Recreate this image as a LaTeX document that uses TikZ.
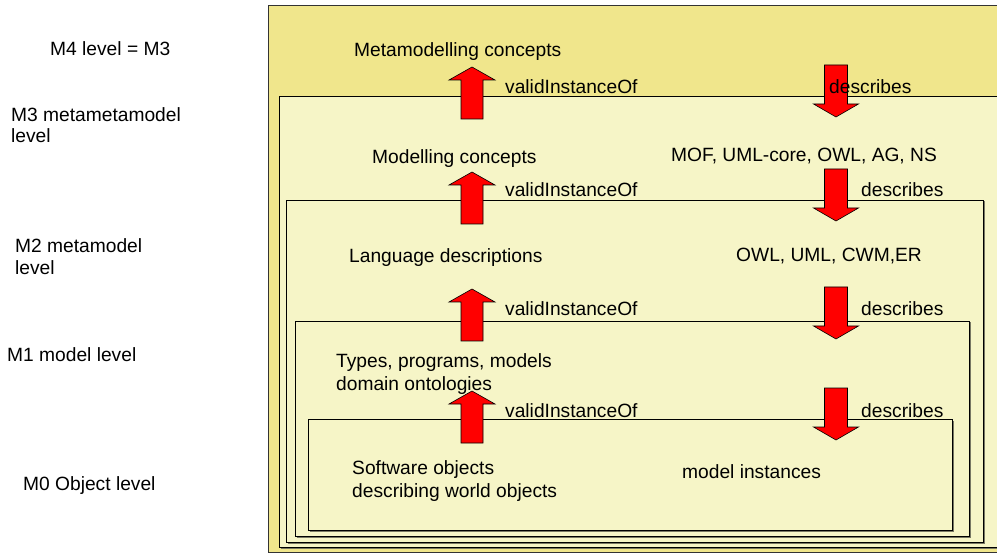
\documentclass[tikz,border=0pt]{standalone}
\usepackage{fontspec}
\setmainfont{Liberation Sans}
\definecolor{khaki}{RGB}{240,230,140}
\definecolor{paleyel}{RGB}{246,245,199}
\definecolor{shadowgrey}{RGB}{120,120,100}
\tikzset{
  lbl/.style={anchor=base west, inner sep=0pt, font=\fontsize{19.2bp}{23bp}\selectfont, text=black},
  levelbox/.style={draw=black, line width=0.9bp, fill=paleyel},
  outerbox/.style={draw=black!80, line width=1bp, fill=khaki},
  boxshadow/.style={draw=shadowgrey, line width=1.2bp},
  blockarrow/.style={fill=red, draw=black, line width=0.6bp, line join=miter}
}
\newcommand{\blkup}[3]{% name, cx, top
  \draw[blockarrow] (#2,#3) -- (#2+23,#3+13) -- (#2+11,#3+13) -- (#2+11,#3+52)
    -- (#2-11,#3+52) -- (#2-11,#3+13) -- (#2-23,#3+13) -- cycle;
  \coordinate (#1) at (#2,#3+26);}
\newcommand{\blkdown}[3]{% name, cx, top
  \draw[blockarrow] (#2-11.5,#3) -- (#2+11.5,#3) -- (#2+11.5,#3+39) -- (#2+22.5,#3+39)
    -- (#2,#3+52) -- (#2-22.5,#3+39) -- (#2-11.5,#3+39) -- cycle;
  \coordinate (#1) at (#2,#3+26);}
\newcommand{\lvlbox}[5]{% name, x1,y1,x2,y2
  \draw[boxshadow] (#2+1.5,#5+1.2) -- (#4+1.2,#5+1.2) -- (#4+1.2,#3+1.5);
  \draw[levelbox] (#2,#3) rectangle (#4,#5);
  \coordinate (#1) at (#2,#3);}
\begin{document}
\begin{tikzpicture}[x=1bp,y=-1bp]
\useasboundingbox (0,0) rectangle (997,553);
\clip (0,0) rectangle (997,553);
% outer khaki frame
\draw[outerbox] (268,6) rectangle (1010,552);
\coordinate (outer) at (268,6);
% nested level boxes
\lvlbox{boxMthree}{279}{96}{1005}{547}
\lvlbox{boxMtwo}{286}{200}{983}{542}
\lvlbox{boxMone}{295}{321}{969}{536}
\lvlbox{boxMzero}{308}{419}{952}{530}
% left level labels
\node[lbl] (lMfour) at (50,56) {M4 level = M3};
\node[lbl] (lMthreeA) at (11,122) {M3 metametamodel};
\node[lbl] (lMthreeB) at (11,143) {level};
\node[lbl] (lMtwoA) at (15,253) {M2 metamodel};
\node[lbl] (lMtwoB) at (15,275) {level};
\node[lbl] (lMone) at (7,362) {M1 model level};
\node[lbl] (lMzero) at (23,490) {M0 Object level};
% contents
\node[lbl] (meta) at (354,57) {Metamodelling concepts};
\node[lbl] (mod) at (372,164) {Modelling concepts};
\node[lbl] (mof) at (671,162) {MOF, UML-core, OWL, AG, NS};
\node[lbl] (lang) at (349,263) {Language descriptions};
\node[lbl] (owl) at (736,262) {OWL, UML, CWM,ER};
\node[lbl] (typesA) at (336,368) {Types, programs, models};
\node[lbl] (typesB) at (336,390) {domain ontologies};
\node[lbl] (softA) at (352,474) {Software objects};
\node[lbl] (softB) at (352,497) {describing world objects};
\node[lbl] (inst) at (682,478) {model instances};
% block arrows
\blkup{upA}{472}{67}
\blkup{upB}{472}{172}
\blkup{upC}{472}{289}
\blkup{upD}{472}{391}
\blkdown{dnA}{836}{65}
\blkdown{dnB}{836}{169}
\blkdown{dnC}{836}{287}
\blkdown{dnD}{836}{388}
% arrow labels
\node[lbl] (vioA) at (505,94) {validInstanceOf};
\node[lbl] (vioB) at (505,197) {validInstanceOf};
\node[lbl] (vioC) at (505,316) {validInstanceOf};
\node[lbl] (vioD) at (505,417) {validInstanceOf};
\node[lbl] (descA) at (829,94) {describes};
\node[lbl] (descB) at (861,197) {describes};
\node[lbl] (descC) at (861,316) {describes};
\node[lbl] (descD) at (861,417) {describes};
\end{tikzpicture}
\end{document}
